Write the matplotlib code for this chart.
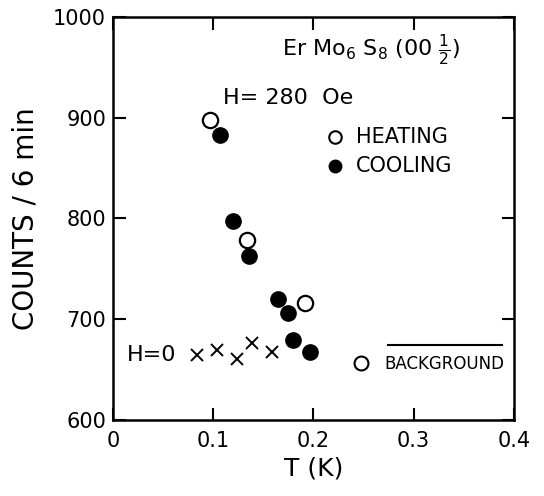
import numpy as np
from matplotlib import pyplot as plt

# H = 280 Oe, heating (open circles)
heat_T = [0.097, 0.134, 0.192]
heat_C = [898, 779, 716]

# H = 280 Oe, cooling (filled circles)
cool_T = [0.107, 0.120, 0.136, 0.165, 0.175, 0.180, 0.197]
cool_C = [883, 798, 763, 720, 706, 679, 668]

# H = 0 (crosses)
zero_T = [0.084, 0.104, 0.124, 0.139, 0.159]
zero_C = [665, 670, 661, 676, 668]

# background level
bg_T = [0.247]
bg_C = [657]

xticks = [0, 0.1, 0.2, 0.3, 0.4]
xlabels = ['0', '0.1', '0.2', '0.3', '0.4']
yticks = [600, 700, 800, 900, 1000]

fig = plt.figure(figsize=(5.44, 4.96), dpi=100)
ax = fig.add_axes([0.2077, 0.153, 0.737, 0.813])

ax.plot(heat_T, heat_C, 'o', ms=11, mfc='white', mec='black', mew=1.6, ls='none')
ax.plot(cool_T, cool_C, 'o', ms=11, mfc='black', mec='black', ls='none')
ax.plot(zero_T, zero_C, 'x', ms=8, mec='black', mew=1.4, ls='none')
ax.plot(bg_T, bg_C, 'o', ms=10, mfc='white', mec='black', mew=1.5, ls='none')

ax.set_xlim(0, 0.4)
ax.set_ylim(600, 1000)
ax.set_xticks(xticks)
ax.set_xticklabels(xlabels)
ax.set_yticks(yticks)
ax.tick_params(direction='in', length=9, width=1.5, top=True, right=True,
               labelsize=15)
ax.tick_params(axis='x', pad=8)
ax.tick_params(axis='y', pad=5)
for s in ax.spines.values():
    s.set_linewidth(1.8)

ax.set_xlabel('T (K)', fontsize=18, labelpad=4)
ax.set_ylabel('COUNTS / 6 min', fontsize=20, labelpad=10)

# annotations
ax.text(0.421, 0.918, r'Er Mo$_6$ S$_8$ (00 $\frac{1}{2}$)', transform=ax.transAxes,
        fontsize=16, va='center', ha='left')
ax.text(0.274, 0.799, 'H= 280  Oe', transform=ax.transAxes,
        fontsize=16, va='center', ha='left')

ax.plot([0.554], [0.702], 'o', ms=9, mfc='white', mec='black', mew=1.5,
        transform=ax.transAxes)
ax.plot([0.554], [0.630], 'o', ms=9, mfc='black', mec='black',
        transform=ax.transAxes)
ax.text(0.606, 0.702, 'HEATING', transform=ax.transAxes,
        fontsize=15, va='center', ha='left')
ax.text(0.606, 0.630, 'COOLING', transform=ax.transAxes,
        fontsize=15, va='center', ha='left')

ax.text(0.035, 0.161, 'H=0', transform=ax.transAxes,
        fontsize=16, va='center', ha='left')

ax.text(0.678, 0.139, 'BACKGROUND', transform=ax.transAxes,
        fontsize=12, va='center', ha='left')
ax.plot([0.686, 0.970], [0.186, 0.186], color='black', lw=1.5,
        transform=ax.transAxes)

plt.savefig('out.png')
